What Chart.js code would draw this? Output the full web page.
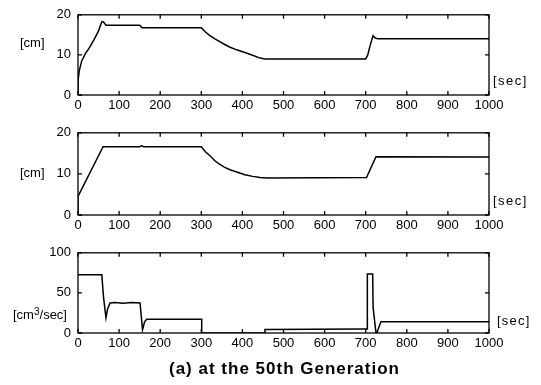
<!DOCTYPE html>
<html>
<head>
<meta charset="utf-8">
<script src="https://cdn.jsdelivr.net/npm/chart.js@4"></script>
<style>
body{margin:0;width:541px;height:385px;background:#fff;position:relative;overflow:hidden;font-family:"Liberation Sans",Arial,sans-serif;}
canvas{position:absolute;left:0;}
.lbl{position:absolute;font-size:13px;color:#000;line-height:1;white-space:nowrap;}
.cap{position:absolute;left:169px;top:360px;font-size:17px;font-weight:bold;letter-spacing:1px;line-height:1;white-space:nowrap;}
</style>
</head>
<body>
<canvas id="c1" width="541" height="120" style="top:0"></canvas>
<canvas id="c2" width="541" height="122" style="top:118px"></canvas>
<canvas id="c3" width="541" height="120" style="top:238px"></canvas>

<div class="lbl" style="left:20px;top:36px">[cm]</div>
<div class="lbl" style="left:493px;top:74px;letter-spacing:1.5px">[sec]</div>
<div class="lbl" style="left:20px;top:166px">[cm]</div>
<div class="lbl" style="left:493px;top:194px;letter-spacing:1.5px">[sec]</div>
<div class="lbl" style="left:13px;top:307px">[cm<sup style="font-size:10px;vertical-align:4px">3</sup>/sec]</div>
<div class="lbl" style="left:497px;top:314px;letter-spacing:1.2px">[sec]</div>
<div class="cap">(a) at the 50th Generation</div>

<script>
// panel 1 : level [cm]
var t1 = [0, 0, 3, 9, 18, 29, 40, 50, 58, 62, 68, 75, 150, 156, 300, 310, 321, 333, 345, 357, 370, 388, 406, 425, 443, 455, 700, 705, 712, 718, 723, 730, 1000];
var h1 = [0, 3.5, 6, 8.5, 10.3, 12, 14, 16, 18.3, 18.2, 17.4, 17.4, 17.4, 16.8, 16.8, 15.7, 14.8, 14.0, 13.3, 12.6, 11.9, 11.2, 10.6, 9.9, 9.2, 9, 9, 10, 12.8, 14.8, 14.2, 14, 14];

// panel 2 : level [cm]
var t2 = [0, 0, 61, 150, 155, 160, 300, 310, 321, 333, 345, 357, 370, 388, 406, 425, 443, 460, 702, 725, 1000];
var h2 = [0, 4.5, 16.6, 16.6, 16.9, 16.6, 16.6, 15.4, 14.4, 13.2, 12.3, 11.6, 11.0, 10.4, 9.8, 9.4, 9.1, 9.0, 9.1, 14.2, 14.1];

// panel 3 : flow [cm3/sec]
var t3 = [0, 58, 62, 68, 72, 78, 90, 110, 130, 151, 155, 157, 162, 167, 301, 301, 455, 455, 690, 700, 704, 704, 717, 718, 725, 727, 737, 1000];
var q3 = [72.5, 72.5, 45, 19, 30, 37.5, 38, 37, 38, 37.5, 15, 4, 14, 17, 17, 0, 0, 4.5, 5, 5, 5, 73.5, 73.5, 32, 0, 0, 14, 14];

var xTicks = [0, 100, 200, 300, 400, 500, 600, 700, 800, 900, 1000];

// marco y marcas hacia adentro
var frame = {
    id: 'frame',
    afterDraw: function (chart) {
        var ctx = chart.ctx, a = chart.chartArea, sx = chart.scales.x, sy = chart.scales.y;
        ctx.save();
        ctx.strokeStyle = '#000';
        ctx.lineWidth = 1.3;
        ctx.strokeRect(a.left, a.top, a.right - a.left, a.bottom - a.top);
        ctx.beginPath();
        sx.ticks.forEach(function (tk) {
            var px = sx.getPixelForValue(tk.value);
            ctx.moveTo(px, a.bottom); ctx.lineTo(px, a.bottom - 4);
            ctx.moveTo(px, a.top); ctx.lineTo(px, a.top + 4);
        });
        sy.ticks.forEach(function (tk) {
            var py = sy.getPixelForValue(tk.value);
            ctx.moveTo(a.left, py); ctx.lineTo(a.left + 4, py);
            ctx.moveTo(a.right, py); ctx.lineTo(a.right - 4, py);
        });
        ctx.stroke();
        ctx.restore();
    }
};

function plain(v) { return String(v); }

function makePanel(id, t, v, ymax, ystep) {
    var pts = t.map(function (x, i) { return { x: x, y: v[i] }; });
    return new Chart(document.getElementById(id), {
        type: 'line',
        data: {
            datasets: [{
                data: pts,
                borderColor: '#000',
                borderWidth: 1.5,
                pointRadius: 0,
                tension: 0
            }]
        },
        options: {
            responsive: false,
            animation: false,
            layout: { padding: { top: 7, right: 52, left: 0, bottom: 0 } },
            plugins: { legend: { display: false }, tooltip: { enabled: false } },
            scales: {
                x: {
                    type: 'linear', min: 0, max: 1000,
                    afterBuildTicks: function (s) { s.ticks = xTicks.map(function (x) { return { value: x }; }); },
                    afterFit: function (s) { s.height = 25; },
                    grid: { display: false, drawTicks: false },
                    border: { display: false },
                    ticks: { color: '#000', padding: 3, maxRotation: 0, autoSkip: false, callback: plain, font: { family: 'Liberation Sans', size: 13 } }
                },
                y: {
                    min: 0, max: ymax,
                    afterFit: function (s) { s.width = 78; },
                    grid: { display: false, drawTicks: false },
                    border: { display: false },
                    ticks: { stepSize: ystep, color: '#000', padding: 7, callback: plain, font: { family: 'Liberation Sans', size: 13 } }
                }
            }
        },
        plugins: [frame]
    });
}

makePanel('c1', t1, h1, 20, 10);
makePanel('c2', t2, h2, 20, 10);
makePanel('c3', t3, q3, 100, 50);
</script>
</body>
</html>
